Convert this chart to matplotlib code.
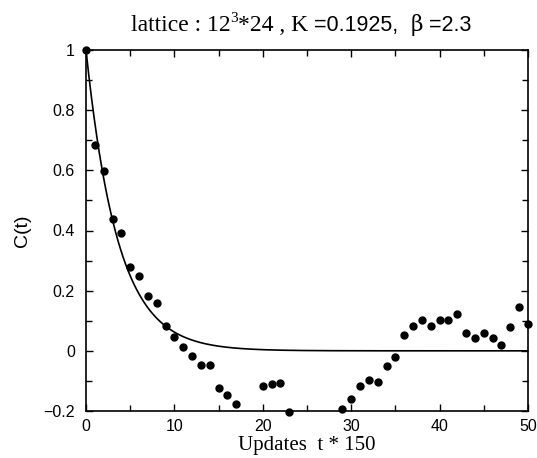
import numpy as np
import matplotlib
matplotlib.use("Agg")
import matplotlib.pyplot as plt
from matplotlib.ticker import MultipleLocator

# data (visible points; the rest fall below -0.2)
t_pts = [0, 1, 2, 3, 4, 5, 6, 7, 8, 9, 10, 11, 12, 13, 14, 15, 16, 17,
         20, 21, 22, 23, 29, 30, 31, 32, 33, 34, 35, 36, 37, 38, 39, 40,
         41, 42, 43, 44, 45, 46, 47, 48, 49, 50]
c_pts = [1.0, 0.683, 0.598, 0.437, 0.392, 0.279, 0.248, 0.183, 0.160, 0.083,
         0.047, 0.013, -0.017, -0.048, -0.047, -0.124, -0.147, -0.177,
         -0.118, -0.109, -0.106, -0.202, -0.194, -0.159, -0.117, -0.097,
         -0.103, -0.050, -0.020, 0.053, 0.081, 0.104, 0.083, 0.104, 0.104,
         0.122, 0.059, 0.042, 0.058, 0.041, 0.018, 0.079, 0.147, 0.090]
tau = 3.6

W, H = 537, 458
fig = plt.figure(figsize=(W / 100, H / 100), dpi=100)
ax = fig.add_axes([86 / W, 1 - 411 / H, (528 - 86) / W, (411 - 50) / H])

tt = np.linspace(0, 50, 500)
ax.plot(tt, np.exp(-tt / tau), color="black", lw=1.2, zorder=2)
ax.plot(t_pts, c_pts, "o", color="black", ms=5, zorder=3, clip_on=False)

ax.set_xlim(0, 50)
ax.set_ylim(-0.2, 1.0)
ax.xaxis.set_major_locator(MultipleLocator(10))
ax.xaxis.set_minor_locator(MultipleLocator(5))
ax.yaxis.set_major_locator(MultipleLocator(0.2))
ax.yaxis.set_minor_locator(MultipleLocator(0.1))
ax.yaxis.set_major_formatter(plt.FuncFormatter(lambda v, p: ("%g" % round(v, 2)).replace("-", "\u2212")))
ax.tick_params(which="both", direction="in", top=True, right=True,
               labeltop=False, labelright=False)
ax.tick_params(which="major", length=5, width=1)
ax.tick_params(which="minor", length=4, width=1)
ax.tick_params(axis="y", labelsize=11.5, pad=8)
ax.tick_params(axis="x", labelsize=11.5, pad=6)
for lab in ax.get_xticklabels() + ax.get_yticklabels():
    lab.set_family("Liberation Sans")
for s in ax.spines.values():
    s.set_linewidth(1.2)

ax.set_xlabel("Updates  t * 150", family="Liberation Serif", fontsize=15, labelpad=1)
ax.set_ylabel("C(t)", family="Liberation Sans", fontsize=14, labelpad=9)

# title in mixed fonts
pieces = [
    ("lattice : 12", "Liberation Serif", 17, 0),
    ("3", "Liberation Serif", 11, 9),
    ("*24 , K ", "Liberation Serif", 17, 0),
    ("=0.1925,  ", "Liberation Sans", 15.5, 0),
    ("\u03b2", "DejaVu Serif", 15.5, 0),
    (" =2.3", "Liberation Sans", 15.5, 0),
]
renderer = fig.canvas.get_renderer()
texts = []
total = 0
for s, fam, fs, dy in pieces:
    tx = fig.text(0, 0, s, family=fam, fontsize=fs, va="baseline", ha="left")
    w = tx.get_window_extent(renderer).width
    texts.append((tx, w, dy))
    total += w
x0 = 301 - total / 2
base = 31
for tx, w, dy in texts:
    tx.set_position((x0 / W, 1 - (base - dy) / H))
    x0 += w

fig.savefig("out.png", dpi=100)
